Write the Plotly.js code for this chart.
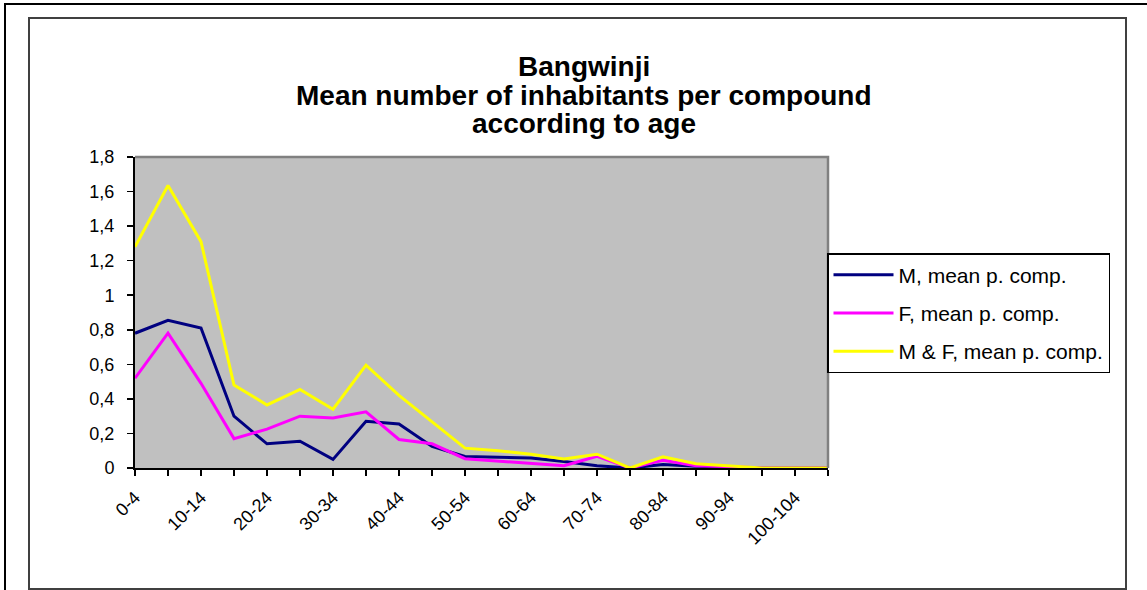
<!DOCTYPE html>
<html>
<head>
<meta charset="utf-8">
<script src="https://cdn.plot.ly/plotly-3.0.1.min.js"></script>
<style>html,body{margin:0;padding:0;background:#fff;}#chart{width:1147px;height:590px;}</style>
</head>
<body>
<div id="chart"></div>
<script>
// ---- data ----
const categories = ["0-4","5-9","10-14","15-19","20-24","25-29","30-34","35-39","40-44","45-49","50-54","55-59","60-64","65-69","70-74","75-79","80-84","85-89","90-94","95-99","100-104","105-109"];
const maleMean   = [0.78, 0.855, 0.81, 0.30, 0.14, 0.155, 0.05, 0.27, 0.255, 0.125, 0.067, 0.063, 0.058, 0.038, 0.013, 0, 0.02, 0.01, 0.005, 0, 0, 0];
const femaleMean = [0.52, 0.78, 0.49, 0.17, 0.225, 0.30, 0.29, 0.325, 0.165, 0.14, 0.054, 0.04, 0.025, 0.013, 0.067, 0, 0.045, 0.013, 0.008, 0, 0, 0];
const bothMean   = [1.28, 1.635, 1.31, 0.48, 0.365, 0.455, 0.34, 0.595, 0.42, 0.265, 0.115, 0.1, 0.08, 0.052, 0.08, 0, 0.065, 0.025, 0.013, 0, 0, 0];
const seriesNames = ["M, mean p. comp.", "F, mean p. comp.", "M & F, mean p. comp."];
const tickLabels = categories.map((c, i) => (i % 2 === 0 ? c : ""));
const titleLines = ["Bangwinji", "Mean number of inhabitants per compound", "according to age"];

// ---- geometry (pixels) ----
const W = 1147, H = 590;
const L = 135, R = 828, T = 157, B = 468;
const px = x => (x - L) / (R - L);
const py = y => (B - y) / (B - T);

const font = "Liberation Sans, Arial, sans-serif";

const traces = [
  {x: categories, y: maleMean, name: seriesNames[0], legendgroup: "a", type: "scatter", mode: "lines", line: {color: "#000080", width: 3}},
  {x: categories, y: femaleMean, name: seriesNames[1], legendgroup: "b", type: "scatter", mode: "lines", line: {color: "#FF00FF", width: 3}},
  {x: categories, y: bothMean, name: seriesNames[2], legendgroup: "c", type: "scatter", mode: "lines", line: {color: "#FFFF00", width: 3}}
];

const shapes = [
  {type: "path", xref: "paper", yref: "paper", path: `M ${px(5)} ${py(H+5)} L ${px(5)} ${py(4)} L ${px(W+5)} ${py(4)}`, line: {color: "#000", width: 2}},
  {type: "rect", xref: "paper", yref: "paper", x0: px(29), y0: py(589), x1: px(1126), y1: py(18), line: {color: "#404040", width: 2}},
  {type: "path", xref: "paper", yref: "paper", path: `M ${px(L)} ${py(T)} L ${px(R)} ${py(T)} L ${px(R)} ${py(B)}`, line: {color: "#808080", width: 2.5}, layer: "above"}
];

const titleY = [66, 96, 124];
const annotations = titleLines.map((t, i) => ({
  text: t, xref: "paper", yref: "paper", x: px(584), y: py(titleY[i]),
  xanchor: "center", yanchor: "middle", showarrow: false,
  font: {family: font, size: 28, color: "#000", weight: "bold"}
}));

const layout = {
  width: W, height: H,
  margin: {l: L, r: W - R, t: T, b: H - B, pad: 0},
  paper_bgcolor: "#fff",
  plot_bgcolor: "#C0C0C0",
  separators: ", ",
  showlegend: true,
  annotations: annotations,
  xaxis: {
    type: "category", range: [0, categories.length - 1],
    tickmode: "array", tickvals: categories, ticktext: tickLabels,
    tickangle: -45, ticks: "outside", ticklen: 6, tickwidth: 1.5, tickcolor: "#000",
    ticklabelstandoff: 4,
    showline: true, linecolor: "#000", linewidth: 2, showgrid: false, zeroline: false,
    tickfont: {family: font, size: 18, color: "#000"}, layer: "below traces", fixedrange: true
  },
  yaxis: {
    range: [0, 1.8], dtick: 0.2, tick0: 0,
    ticks: "outside", ticklen: 6, tickwidth: 1.5, tickcolor: "#000",
    ticklabelstandoff: 9,
    showline: true, linecolor: "#000", linewidth: 2, showgrid: false, zeroline: false,
    tickfont: {family: font, size: 18, color: "#000"}, layer: "below traces", fixedrange: true
  },
  xaxis2: {
    overlaying: "x", anchor: "y", type: "linear", range: [0, categories.length - 1], dtick: 1, tick0: 0,
    ticks: "inside", ticklen: 6, tickwidth: 1.5, tickcolor: "#000", showticklabels: false,
    showline: false, showgrid: false, zeroline: false, side: "bottom"
  },
  yaxis2: {
    overlaying: "y", anchor: "x", range: [0, 1.8], dtick: 0.2, tick0: 0,
    ticks: "inside", ticklen: 6, tickwidth: 1.5, tickcolor: "#000", showticklabels: false,
    showline: false, showgrid: false, zeroline: false, side: "left"
  },
  legend: {
    x: px(827), y: py(253), xanchor: "left", yanchor: "top",
    bgcolor: "#fff", bordercolor: "#000", borderwidth: 1.5,
    font: {family: font, size: 21, color: "#000"},
    itemwidth: 60,
    tracegroupgap: 8, traceorder: "grouped"
  },
  shapes: shapes
};

Plotly.newPlot("chart", traces, layout, {displayModeBar: false, staticPlot: true});
</script>
</body>
</html>
